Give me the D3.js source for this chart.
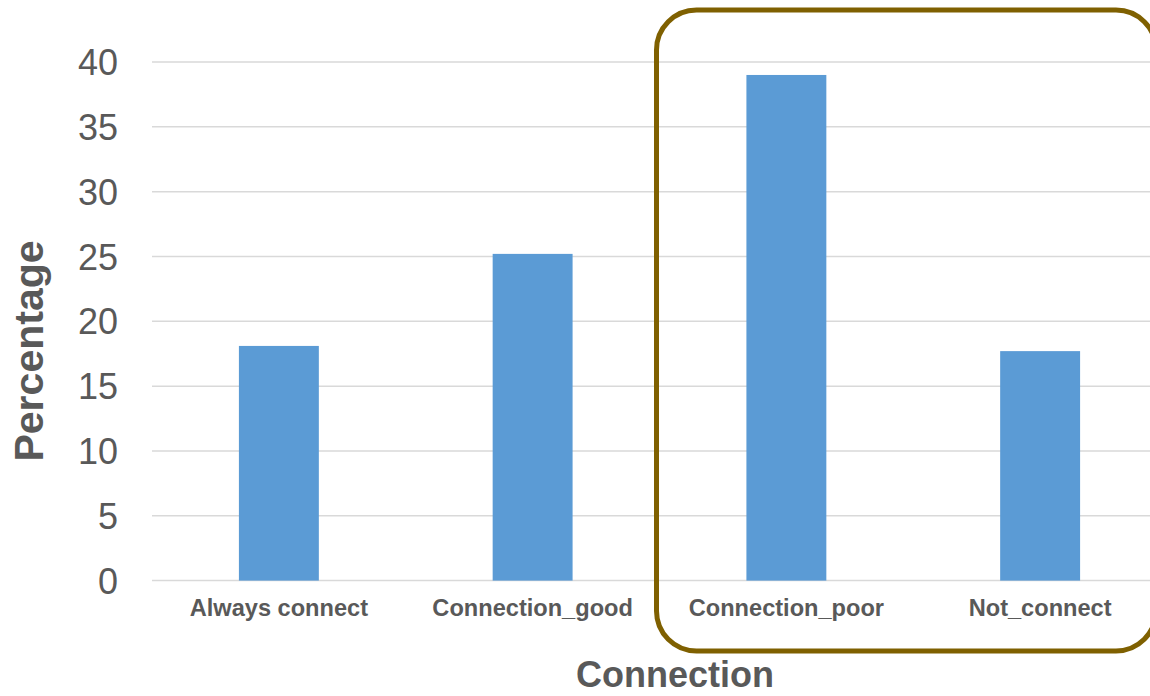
<!DOCTYPE html>
<html><head><meta charset="utf-8">
<script src="https://cdn.jsdelivr.net/npm/d3@7"></script>
<style>html,body{margin:0;padding:0;background:#fff;overflow:hidden}</style>
</head><body>
<svg id="c" width="1150" height="696"></svg>
<script>
const categories = ["Always connect", "Connection_good", "Connection_poor", "Not_connect"];
const values = [18.1, 25.2, 39.0, 17.7];
const yTicks = [0, 5, 10, 15, 20, 25, 30, 35, 40];
const highlighted = ["Connection_poor", "Not_connect"];

const svg = d3.select("#c");
const font = "'Liberation Sans', Arial, sans-serif";
const textColor = "#595959";
const plotLeft = 152, plotRight = 1167, plotTop = 62, plotBottom = 580.6;

const x = d3.scaleBand().domain(categories).range([plotLeft, plotRight]).paddingInner(0.685).paddingOuter(0.3425);
const y = d3.scaleLinear().domain([0, 40]).range([plotBottom, plotTop]);

// gridlines
svg.append("g").selectAll("line").data(yTicks).join("line")
  .attr("x1", plotLeft).attr("x2", 1150)
  .attr("y1", d => y(d)).attr("y2", d => y(d))
  .attr("stroke", "#d9d9d9").attr("stroke-width", 1.5);

// y axis labels
const yAxis = d3.axisLeft(y).tickValues(yTicks).tickSize(0).tickPadding(0);
const ya = svg.append("g").attr("transform", `translate(118,0)`).call(yAxis);
ya.select(".domain").remove();
ya.selectAll("text").attr("font-family", font).attr("font-size", 36).attr("fill", textColor).attr("dy", "0.35em");

// bars
svg.append("g").selectAll("rect").data(values).join("rect")
  .attr("x", (d, i) => x(categories[i]))
  .attr("width", x.bandwidth())
  .attr("y", d => y(d))
  .attr("height", d => y(0) - y(d))
  .attr("fill", "#5b9bd5");

// x axis labels
const xAxis = d3.axisBottom(x).tickSize(0).tickPadding(0);
const xa = svg.append("g").attr("transform", `translate(0,616)`).call(xAxis);
xa.select(".domain").remove();
xa.selectAll("text").attr("font-family", font).attr("font-size", 23.6).attr("font-weight", "bold")
  .attr("fill", textColor).attr("dy", 0).attr("y", 0);

// axis titles
svg.append("text").attr("x", 675).attr("y", 687).attr("text-anchor", "middle")
  .attr("font-family", font).attr("font-size", 36).attr("font-weight", "bold").attr("fill", textColor)
  .text("Connection");
svg.append("text").attr("transform", "translate(43,351) rotate(-90)").attr("text-anchor", "middle")
  .attr("font-family", font).attr("font-size", 41).attr("font-weight", "bold").attr("fill", textColor)
  .text("Percentage");

// highlight box around the last two categories
const hx0 = x(highlighted[0]) - (x.step() - x.bandwidth()) / 2 - 3;
svg.append("rect")
  .attr("x", hx0).attr("y", 10)
  .attr("width", 1156 - hx0).attr("height", 641)
  .attr("rx", 40).attr("ry", 40)
  .attr("fill", "none").attr("stroke", "#7f6000").attr("stroke-width", 5);
</script>
</body></html>
